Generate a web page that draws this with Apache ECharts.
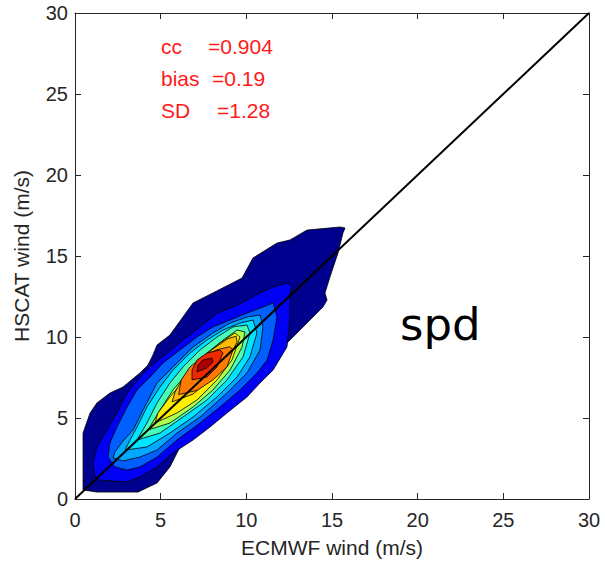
<!DOCTYPE html>
<html>
<head>
<meta charset="utf-8">
<script src="https://cdn.jsdelivr.net/npm/echarts@6/dist/echarts.min.js"></script>
<style>
html,body{margin:0;padding:0;background:#fff;}
#chart{width:605px;height:569px;}
</style>
</head>
<body>
<div id="chart"></div>
<script>
// Axis ticks
const xTicks = [0, 5, 10, 15, 20, 25, 30];
const yTicks = [0, 5, 10, 15, 20, 25, 30];

// Filled contour regions (data units: ECMWF wind, HSCAT wind), outermost first
const level1 = [[0.47,0.56],[1.28,0.43],[3.68,0.43],[4.79,0.99],[5.54,1.98],[6.54,4.07],[7.70,5.31],[9.22,6.54],[10.39,7.53],[11.56,8.77],[12.55,9.81],[13.54,10.86],[14.47,11.85],[14.71,12.28],[14.59,12.72],[14.88,13.70],[15.35,15.19],[15.64,16.42],[15.76,16.73],[15.47,16.79],[13.54,16.60],[12.55,15.99],[11.79,15.80],[10.39,14.88],[9.75,13.64],[8.05,12.72],[6.89,12.10],[5.54,10.12],[4.79,9.51],[4.55,8.89],[4.26,8.27],[3.79,7.78],[2.80,6.91],[2.04,6.54],[1.28,5.93],[0.88,5.31],[0.47,4.07]];
const level2 = [[1.46,1.17],[3.04,1.05],[3.79,1.36],[4.79,1.98],[5.72,2.84],[6.89,3.64],[7.88,4.44],[8.87,5.31],[10.04,6.30],[10.80,7.16],[11.56,7.96],[12.37,9.38],[12.55,11.23],[12.55,12.72],[12.67,13.21],[12.37,13.33],[11.56,13.09],[10.80,12.72],[10.04,12.28],[9.22,11.85],[8.29,11.48],[7.30,10.62],[6.30,9.81],[5.37,9.01],[4.38,8.15],[3.79,7.53],[3.04,6.54],[2.45,5.31],[1.87,4.26],[1.28,3.21],[1.05,2.22],[1.17,1.36]];
const level3 = [[2.33,1.98],[3.04,1.79],[3.79,1.98],[4.79,2.59],[5.95,3.64],[7.30,4.69],[8.46,5.68],[9.63,6.73],[10.62,7.78],[11.21,8.58],[11.56,9.81],[11.79,11.23],[11.56,12.10],[10.97,11.85],[10.04,11.48],[9.05,11.05],[8.05,10.62],[7.12,10.00],[6.13,9.20],[5.14,8.40],[4.38,7.53],[3.62,6.73],[3.04,5.68],[2.45,4.44],[2.04,3.46],[1.93,2.59]];
const level4 = [[2.22,2.53],[2.80,2.35],[3.79,2.59],[4.79,3.02],[5.95,4.07],[7.30,5.06],[8.87,6.54],[10.04,7.78],[10.80,9.20],[10.97,10.62],[10.80,11.36],[10.04,11.23],[9.05,10.86],[8.05,10.25],[6.89,9.38],[5.72,8.15],[4.79,7.16],[3.97,5.49],[3.39,4.26],[2.80,3.58],[2.33,2.90]];
const level5 = [[2.92,3.02],[4.20,3.21],[5.54,4.07],[6.89,5.06],[8.29,6.30],[9.46,7.53],[10.21,8.77],[10.62,10.25],[10.39,11.05],[9.63,10.86],[8.64,10.43],[7.70,9.81],[6.71,9.01],[5.72,7.96],[4.96,6.91],[4.20,5.68],[3.62,4.44],[3.21,3.64]];
const level6 = [[3.62,3.64],[4.96,4.07],[6.30,5.06],[7.70,6.11],[8.87,7.35],[9.81,8.77],[10.21,10.25],[10.04,10.74],[9.22,10.62],[8.29,10.00],[7.30,9.20],[6.30,8.15],[5.54,7.16],[4.79,5.93],[4.20,4.69]];
const level7 = [[4.26,4.26],[5.54,4.69],[6.89,5.68],[8.05,6.73],[9.05,7.96],[9.75,9.38],[9.92,10.31],[9.46,10.43],[8.64,9.81],[7.70,9.01],[6.71,7.96],[5.72,6.73],[4.96,5.49]];
const level8 = [[4.67,4.69],[5.95,5.31],[7.12,6.11],[8.29,7.35],[9.16,8.58],[9.63,10.00],[9.34,10.25],[8.46,9.63],[7.47,8.77],[6.54,7.53],[5.54,6.30],[4.84,5.31]];
const level9 = [[5.66,5.99],[6.89,6.48],[8.00,7.47],[8.93,8.58],[9.46,9.69],[9.40,10.05],[8.93,9.90],[8.05,9.26],[7.12,8.46],[6.30,7.47],[5.84,6.60]];
const level10 = [[6.05,6.45],[7.12,6.70],[8.05,7.35],[8.87,8.15],[9.22,9.20],[9.05,9.40],[8.29,9.22],[7.47,8.80],[6.71,8.15],[6.20,7.35]];
const level11 = [[6.83,7.35],[7.70,7.53],[8.29,8.15],[8.64,9.01],[8.46,9.20],[7.70,9.01],[7.12,8.58],[6.83,7.96]];
const level12 = [[7.12,7.84],[7.70,8.09],[8.05,8.46],[8.00,8.70],[7.47,8.58],[7.18,8.27]];

const contours = [level1, level2, level3, level4, level5, level6, level7, level8, level9, level10, level11, level12];
const levelColors = ['#00008F', '#0000F5', '#0060FF', '#00A8FF', '#00E4FF', '#48FFB8', '#B0FF50', '#FFEE00', '#FFBC00', '#FF7A00', '#F02800', '#A80000'];

// 1:1 reference line
const diagonal = [[0, 0], [30, 30]];

// Statistics text
const statNames = ['cc', 'bias', 'SD'];
const statValues = ['=0.904', '=0.19', '=1.28'];
const panelLabel = 'spd';

const chart = echarts.init(document.getElementById('chart'), null, {renderer: 'svg'});

const txtColor = '#262626';
const font = 'Liberation Sans, Arial, Helvetica, sans-serif';

function axisCommon(extra) {
  return Object.assign({
    type: 'value', min: 0, max: 30, interval: 5,
    splitLine: {show: false},
    axisLine: {show: true, onZero: false, lineStyle: {color: txtColor, width: 1}},
    axisTick: {show: true, inside: true, length: 6, lineStyle: {color: txtColor, width: 1}}
  }, extra);
}

const option = {
  backgroundColor: '#ffffff',
  animation: false,
  grid: {left: 75, right: 16, top: 13, bottom: 70, containLabel: false},
  xAxis: [
    axisCommon({
      position: 'bottom',
      name: 'ECMWF wind (m/s)', nameLocation: 'middle', nameGap: 38,
      nameTextStyle: {color: txtColor, fontSize: 21, fontFamily: font},
      axisLabel: {color: txtColor, fontSize: 20, fontFamily: font, margin: 11,
        formatter: v => xTicks.indexOf(v) >= 0 ? String(v) : ''}
    }),
    axisCommon({position: 'top', axisLabel: {show: false}})
  ],
  yAxis: [
    axisCommon({
      position: 'left',
      name: 'HSCAT wind (m/s)', nameLocation: 'middle', nameGap: 43,
      nameTextStyle: {color: txtColor, fontSize: 21, fontFamily: font},
      axisLabel: {color: txtColor, fontSize: 20, fontFamily: font, margin: 7,
        formatter: v => yTicks.indexOf(v) >= 0 ? String(v) : ''}
    }),
    axisCommon({position: 'right', axisLabel: {show: false}})
  ],
  series: [
    {
      type: 'custom',
      xAxisIndex: 0, yAxisIndex: 0,
      data: contours.map((c, i) => [c[0][0], c[0][1], i]),
      encode: {x: 0, y: 1},
      renderItem: function (params, api) {
        const idx = api.value(2);
        const pts = contours[idx].map(p => api.coord(p));
        return {
          type: 'polygon',
          shape: {points: pts},
          style: {fill: levelColors[idx], stroke: '#000', lineWidth: 0.8}
        };
      },
      z: 2
    },
    {
      type: 'line',
      xAxisIndex: 0, yAxisIndex: 0,
      data: diagonal,
      symbol: 'none',
      lineStyle: {color: '#000', width: 2},
      z: 5
    }
  ],
  graphic: [
    {type: 'text', left: 161, top: 36, style: {text: statNames[0], fill: '#ff1a1a', font: '21px ' + font}},
    {type: 'text', left: 208, top: 36, style: {text: statValues[0], fill: '#ff1a1a', font: '21px ' + font}},
    {type: 'text', left: 161, top: 68, style: {text: statNames[1], fill: '#ff1a1a', font: '21px ' + font}},
    {type: 'text', left: 212, top: 68, style: {text: statValues[1], fill: '#ff1a1a', font: '21px ' + font}},
    {type: 'text', left: 161, top: 100, style: {text: statNames[2], fill: '#ff1a1a', font: '21px ' + font}},
    {type: 'text', left: 217, top: 100, style: {text: statValues[2], fill: '#ff1a1a', font: '21px ' + font}},
    {type: 'text', left: 400, top: 302, style: {text: panelLabel, fill: '#000', font: '45px DejaVu Sans, sans-serif'}}
  ]
};

chart.setOption(option);
</script>
</body>
</html>
